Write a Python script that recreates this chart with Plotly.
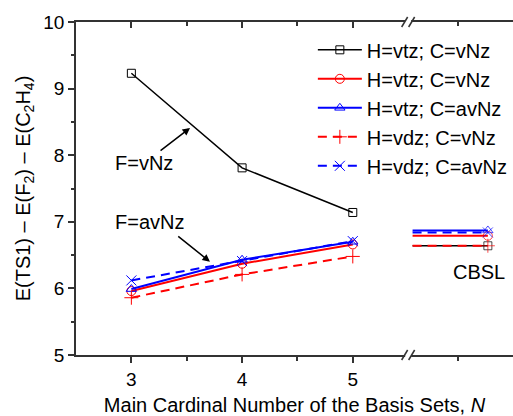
import plotly.graph_objects as go

# ---- data ----
N = [3, 4, 5]
cbsl_label = "CBSL"
cbsl_pos = 6.22      # position of CBSL point on broken axis
cbsl_start = 5.54    # start of CBSL segment after the break
series_names = ["H=vtz; C=vNz", "H=vtz; C=vNz", "H=vtz; C=avNz", "H=vdz; C=vNz", "H=vdz; C=avNz"]
vals_black = [9.23, 7.81, 7.14]
vals_red = [5.96, 6.37, 6.66]
vals_blue = [5.99, 6.43, 6.70]
vals_red_dash = [5.86, 6.21, 6.48]
vals_blue_dash = [6.12, 6.41, 6.71]
cbsl_vals = [6.64, 6.79, 6.87, 6.64, 6.84]
y_ticks = [5, 6, 7, 8, 9, 10]

FONT = "Arial, Liberation Sans, sans-serif"

styles = [
    dict(color="black", width=1.5, dash="solid", symbol="square-open", size=8),
    dict(color="#ff0000", width=2, dash="solid", symbol="circle-open", size=9),
    dict(color="#0000ff", width=2, dash="solid", symbol="triangle-up-open", size=9),
    dict(color="#ff0000", width=2, dash="9px,6px", symbol="cross-thin-open", size=10),
    dict(color="#0000ff", width=2, dash="9px,6px", symbol="x-thin-open", size=10),
]
all_vals = [vals_black, vals_red, vals_blue, vals_red_dash, vals_blue_dash]

fig = go.Figure()
for name, vals, st, cb in zip(series_names, all_vals, styles, cbsl_vals):
    fig.add_trace(go.Scatter(
        x=N, y=vals, mode="lines+markers", name=name,
        line=dict(color=st["color"], width=st["width"], dash=st["dash"]),
        marker=dict(symbol=st["symbol"], size=st["size"], color=st["color"],
                    line=dict(color=st["color"], width=1)),
    ))
    fig.add_trace(go.Scatter(
        x=[cbsl_start, cbsl_pos], y=[cb, cb], mode="lines+markers", showlegend=False,
        line=dict(color=st["color"], width=st["width"], dash=st["dash"]),
        marker=dict(symbol=st["symbol"], size=[0, st["size"]], color=st["color"],
                    line=dict(color=st["color"], width=1)),
    ))

xr = [2.5, 6.447]
fig.update_layout(
    width=513, height=416,
    margin=dict(l=76, r=0, t=22, b=61, autoexpand=False),
    plot_bgcolor="white", paper_bgcolor="white",
    font=dict(family=FONT, size=19, color="black"),
    showlegend=True,
    legend=dict(x=0.542, y=0.975, xanchor="left", yanchor="top",
                bgcolor="rgba(0,0,0,0)", font=dict(size=20), tracegroupgap=0,
                itemwidth=44),
    xaxis=dict(range=xr, tickvals=N, ticktext=[str(n) for n in N], automargin=False,
               ticks="outside", ticklen=6, tickwidth=1.5, tickcolor="#333",
               showline=True, linecolor="#333", linewidth=1.5, showgrid=False,
               zeroline=False,
               minor=dict(tickvals=[3.5, 4.5, 5.95], ticks="outside", ticklen=4,
                          tickcolor="#333", tickwidth=1.5),
               title=dict(text="Main Cardinal Number of the Basis Sets, <i>N</i>",
                          font=dict(size=20), standoff=10)),
    xaxis2=dict(range=xr, overlaying="x", side="top", tickvals=N, showticklabels=False,
                automargin=False,
                ticks="inside", ticklen=6, tickwidth=1.5, tickcolor="#333",
                showline=True, linecolor="#333", linewidth=1.5, showgrid=False,
                zeroline=False,
                minor=dict(tickvals=[3.5, 4.5, 5.95], ticks="inside", ticklen=4,
                           tickcolor="#333", tickwidth=1.5)),
    yaxis=dict(range=[5, 10], tickvals=y_ticks, ticks="outside", ticklen=6, automargin=False,
               tickwidth=1.5, tickcolor="#333", showline=True, linecolor="#333",
               linewidth=1.5, showgrid=False, zeroline=False,
               minor=dict(dtick=0.5, ticks="outside", ticklen=3, tickcolor="#333", tickwidth=1.5),
               title=dict(text="E(TS1) – E(F<sub>2</sub>) – E(C<sub>2</sub>H<sub>4</sub>)",
                          font=dict(size=20), standoff=7)),
)
# dummy trace to activate xaxis2
fig.add_trace(go.Scatter(x=[xr[0]], y=[5], xaxis="x2", mode="markers",
                         marker=dict(opacity=0), showlegend=False, hoverinfo="skip"))

# axis break marks
brk = 5.5
for yp in (0, 1):
    fig.add_shape(type="rect", xref="x", yref="paper", xsizemode="pixel", ysizemode="pixel",
                  xanchor=brk, yanchor=yp, x0=-3, x1=3, y0=-2, y1=2,
                  fillcolor="white", line=dict(width=0))
    for dx in (-3.5, 3.5):
        fig.add_shape(type="line", xref="x", yref="paper", xsizemode="pixel", ysizemode="pixel",
                      xanchor=brk, yanchor=yp, x0=dx - 3, x1=dx + 3, y0=-5, y1=5,
                      line=dict(color="#333", width=1.5))

# annotations
fig.add_annotation(x=3.114, y=7.88, text="F=vNz", showarrow=False, font=dict(size=20))
fig.add_annotation(x=3.53, y=8.41, ax=3.25, ay=8.05, axref="x", ayref="y", text="",
                   showarrow=True, arrowhead=2, arrowsize=1, arrowwidth=1.5, arrowcolor="black")
fig.add_annotation(x=3.16, y=7.0, text="F=avNz", showarrow=False, font=dict(size=20))
fig.add_annotation(x=3.71, y=6.40, ax=3.41, ay=6.80, axref="x", ayref="y", text="",
                   showarrow=True, arrowhead=2, arrowsize=1, arrowwidth=1.5, arrowcolor="black")
fig.add_annotation(x=6.14, y=6.25, text=cbsl_label, showarrow=False, font=dict(size=20))

fig.write_html("out.html", config={"displayModeBar": False},
               post_script="document.body.style.margin='0';")
